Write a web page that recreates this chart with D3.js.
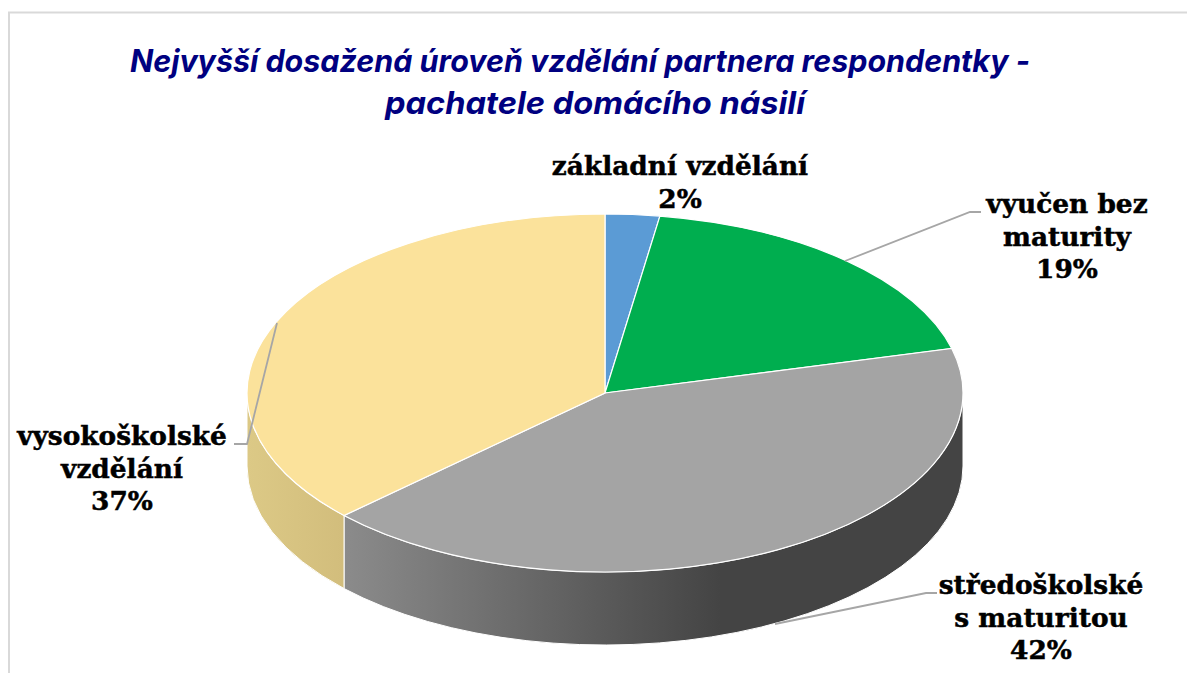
<!DOCTYPE html>
<html><head><meta charset="utf-8">
<script src="https://cdn.jsdelivr.net/npm/d3@7/dist/d3.min.js"></script>
<style>html,body{margin:0;padding:0;background:#fff;overflow:hidden}svg{display:block}</style>
</head><body><div id="chart"></div>
<script>
const categories = ["základní vzdělání","vyučen bez maturity","středoškolské s maturitou","vysokoškolské vzdělání"];
const values = [2.45,18.55,42,37];
const labelLines = [["základní vzdělání"],["vyučen bez","maturity"],["středoškolské","s maturitou"],["vysokoškolské","vzdělání"]];
const colors = ["#5b9bd5","#00ae4f","#a4a4a4","#fbe29b"];
const titleLines = ["Nejvyšší dosažená úroveň vzdělání partnera respondentky -","pachatele domácího násilí"];

const W=1187,H=673,cx=605,cy=393,rx=358,squash=0.5,depth=73;
const svg=d3.select("#chart").append("svg").attr("width",W).attr("height",H);

svg.append("path").attr("d",`M${W},12.5H9V${H}`).attr("fill","none").attr("stroke","#d9d9d9").attr("stroke-width",2);

const titleX=[580,595],titleY=[72,113.5],titleW=[900,420];
svg.selectAll("text.title").data(titleLines).join("text").attr("class","title")
  .attr("x",(d,i)=>titleX[i]).attr("y",(d,i)=>titleY[i]).attr("text-anchor","middle")
  .attr("font-family","Inter, Lato, sans-serif").attr("font-weight",700).attr("font-style","italic")
  .attr("font-size",31).attr("fill","#000080")
  .attr("textLength",(d,i)=>titleW[i]).attr("lengthAdjust","spacingAndGlyphs").text(d=>d);

const pie=d3.pie().sort(null).value(d=>d);
const arcs=pie(values);
const defs=svg.append("defs");
const g1=defs.append("linearGradient").attr("id","wall2").attr("gradientUnits","userSpaceOnUse")
  .attr("x1",-260).attr("x2",115).attr("y1",0).attr("y2",0);
g1.append("stop").attr("offset",0).attr("stop-color","#8b8b8b");
g1.append("stop").attr("offset",1).attr("stop-color","#444444");
const g2=defs.append("linearGradient").attr("id","wall3").attr("gradientUnits","userSpaceOnUse")
  .attr("x1",-358).attr("x2",-260).attr("y1",0).attr("y2",0);
g2.append("stop").attr("offset",0).attr("stop-color","#dcc986");
g2.append("stop").attr("offset",1).attr("stop-color","#d2bd7c");

const pieG=svg.append("g").attr("transform",`translate(${cx},${cy}) scale(1,${squash})`);
const wallData=arcs.map((a,i)=>({i,a0:Math.max(a.startAngle,Math.PI/2),a1:Math.min(a.endAngle,1.5*Math.PI)}))
  .filter(d=>d.a1>d.a0);
pieG.selectAll("path.wall").data(wallData).join("path").attr("class","wall")
  .attr("d",d=>{
    const p=d3.path(),s=d.a0-Math.PI/2,e=d.a1-Math.PI/2,dd=depth/squash;
    p.arc(0,0,rx,s,e,false);
    p.arc(0,dd,rx,e,s,true);
    p.closePath();
    return p.toString();
  })
  .attr("fill",d=>`url(#wall${d.i})`).attr("stroke","#fff").attr("stroke-width",1)
  .attr("vector-effect","non-scaling-stroke");
const arcGen=d3.arc().innerRadius(0).outerRadius(rx);
pieG.selectAll("path.top").data(arcs).join("path").attr("class","top")
  .attr("d",arcGen).attr("fill",(d,i)=>colors[i]).attr("stroke","#fff").attr("stroke-width",1.2)
  .attr("vector-effect","non-scaling-stroke");

const leaders=[
  [[845,261],[970,212],[981,212]],
  [[775,624],[926,593],[937,593]],
  [[277,323],[247,444],[234,444]]
];
svg.selectAll("path.leader").data(leaders).join("path").attr("class","leader")
  .attr("d",d3.line()).attr("fill","none").attr("stroke","#a6a6a6").attr("stroke-width",1.8);

const labelPos=[[680,175],[1067,213],[1041,594],[122,445]];
const pct=d3.format(".0f");
const lh=32.5;
const lab=svg.selectAll("g.lab").data(arcs).join("g").attr("class","lab");
lab.each(function(d,i){
  const lines=[...labelLines[i],pct(values[i])+"%"];
  d3.select(this).selectAll("text").data(lines).join("text")
    .attr("x",labelPos[i][0]).attr("y",(t,j)=>labelPos[i][1]+j*lh)
    .attr("text-anchor","middle")
    .attr("font-family","'DejaVu Serif', serif").attr("font-weight",700)
    .attr("font-size",26.4).attr("fill","#000").attr("stroke","#000").attr("stroke-width",0.5).text(t=>t);
});
</script></body></html>
